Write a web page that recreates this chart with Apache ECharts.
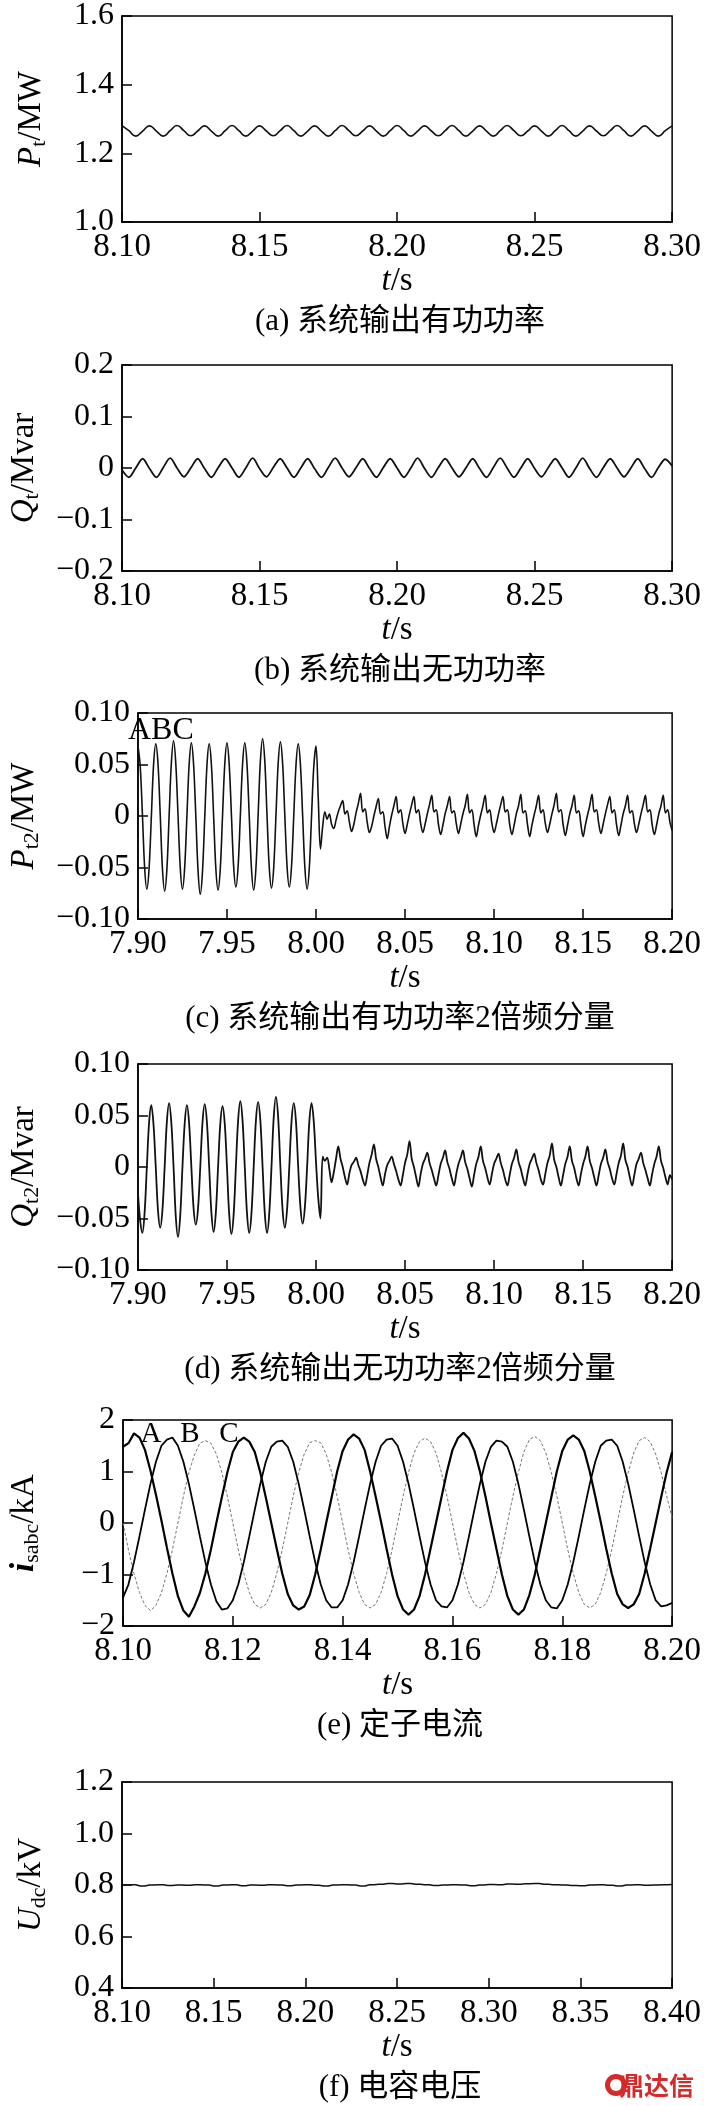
<!DOCTYPE html>
<html><head><meta charset="utf-8">
<script src="https://cdn.jsdelivr.net/npm/echarts@6/dist/echarts.min.js"></script>
<style>html,body{margin:0;padding:0;background:#fff;}#c{width:704px;height:2106px;}</style>
</head><body><div id="c"></div>
<script>
// ---------- tick labels ----------
const xTicksA = ['8.10','8.15','8.20','8.25','8.30'];
const xTicksC = ['7.90','7.95','8.00','8.05','8.10','8.15','8.20'];
const xTicksE = ['8.10','8.12','8.14','8.16','8.18','8.20'];
const xTicksF = ['8.10','8.15','8.20','8.25','8.30','8.35','8.40'];
const yTicksA = ['1.0','1.2','1.4','1.6'];
const yTicksB = ['\u22120.2','\u22120.1','0','0.1','0.2'];
const yTicksC = ['\u22120.10','\u22120.05','0','0.05','0.10'];
const yTicksE = ['\u22122','\u22121','0','1','2'];
const yTicksF = ['0.4','0.6','0.8','1.0','1.2'];
const captions = ['(a) 系统输出有功功率','(b) 系统输出无功功率','(c) 系统输出有功功率2倍频分量','(d) 系统输出无功功率2倍频分量','(e) 定子电流','(f) 电容电压'];

// ---------- series values (sampled on a uniform time grid) ----------
// (a) Pt, 8.10..8.30, step 0.0025 s
const ptVals = [1.281,1.266,1.250,1.265, 1.280,1.265,1.250,1.266, 1.281,1.266,1.251,1.265, 1.280,1.265,1.250,1.266,
 1.281,1.266,1.250,1.265, 1.280,1.265,1.251,1.266, 1.281,1.266,1.250,1.265, 1.280,1.265,1.250,1.266,
 1.281,1.266,1.251,1.265, 1.280,1.265,1.250,1.266, 1.281,1.266,1.250,1.265, 1.280,1.265,1.251,1.266,
 1.281,1.266,1.250,1.265, 1.280,1.265,1.250,1.266, 1.281,1.266,1.251,1.265, 1.280,1.265,1.250,1.266,
 1.281,1.266,1.250,1.265, 1.280,1.265,1.251,1.266, 1.281,1.266,1.250,1.265, 1.280,1.265,1.250,1.266, 1.280];
// (b) Qt, 8.10..8.30, step 0.0025 s
const qtVals = [-0.004,-0.018,0.000,0.018, -0.001,-0.018,0.001,0.019, 0.000,-0.017,0.000,0.018, -0.001,-0.018,0.001,0.018,
 0.000,-0.018,0.000,0.019, -0.001,-0.017,0.001,0.018, 0.000,-0.018,0.000,0.018, -0.001,-0.018,0.001,0.019,
 0.000,-0.017,0.000,0.018, -0.001,-0.018,0.001,0.018, 0.000,-0.018,0.000,0.019, -0.001,-0.018,0.001,0.018,
 0.000,-0.017,0.000,0.018, -0.001,-0.018,0.001,0.019, 0.000,-0.018,0.000,0.018, -0.001,-0.017,0.001,0.018,
 0.000,-0.018,0.000,0.019, -0.001,-0.018,0.001,0.018, 0.000,-0.017,0.000,0.018, -0.001,-0.018,0.001,0.017,
 0.004];
// (c) Pt2, 7.90..8.20, step 0.00125 s
const pt2Vals = [
 .068,.049,.002,-.050,-.071,-.051,-.002,.049,
 .070,.051,.002,-.051,-.073,-.052,.000,.051,
 .073,.051,.001,-.050,-.071,-.050,.000,.050,
 .071,.050,.000,-.053,-.076,-.054,-.002,.049,
 .070,.050,.000,-.051,-.072,-.051,.000,.050,
 .071,.050,.001,-.049,-.069,-.049,.000,.050,
 .071,.050,.000,-.051,-.072,-.051,.001,.053,
 .075,.053,.000,-.050,-.070,-.050,.000,.051,
 .072,.051,.000,-.049,-.069,-.049,.000,.049,
 .070,.050,.000,-.050,-.071,-.050,.000,.048,
 .068,.018,-.032,-.010,.004,-.003,.002,-.008,
 -.012,-.004,.004,.010,.015,.002,.005,-.006,
 -.015,-.008,.003,.012,.022,.004,.007,-.006,
 -.016,-.010,.000,.009,.017,.002,.004,-.010,
 -.022,-.010,.001,.010,.019,.003,.006,-.007,
 -.017,-.008,.002,.011,.019,.003,.006,-.007,
 -.016,-.008,.002,.011,.020,.004,.006,-.008,
 -.018,-.009,.002,.010,.019,.003,.005,-.007,
 -.017,-.008,.002,.010,.021,.003,.006,-.008,
 -.020,-.009,.001,.010,.020,.003,.006,-.007,
 -.016,-.008,.002,.011,.019,.004,.006,-.008,
 -.018,-.009,.002,.010,.021,.003,.005,-.008,
 -.020,-.009,.001,.010,.020,.003,.006,-.007,
 -.016,-.008,.002,.011,.022,.004,.006,-.008,
 -.019,-.009,.002,.010,.020,.003,.005,-.008,
 -.020,-.009,.001,.010,.021,.004,.006,-.007,
 -.017,-.008,.002,.011,.019,.003,.006,-.008,
 -.019,-.009,.002,.010,.020,.003,.005,-.007,
 -.016,-.008,.002,.011,.020,.004,.006,-.008,
 -.018,-.009,.002,.010,.020,.003,.006,-.006,
 -.014];
// (d) Qt2, 7.90..8.20, step 0.00125 s
const qt2Vals = [
 -.025,-.052,-.064,-.044,.000,.043,.060,.041,
 .000,-.042,-.059,-.042,.000,.044,.062,.043,
 .000,-.048,-.068,-.047,.000,.042,.060,.042,
 .000,-.040,-.056,-.040,.000,.043,.061,.043,
 .000,-.044,-.063,-.044,.000,.042,.059,.042,
 .000,-.046,-.065,-.046,.000,.045,.064,.045,
 .000,-.045,-.064,-.045,.000,.045,.063,.045,
 .000,-.045,-.064,-.045,.000,.048,.068,.048,
 .000,-.042,-.059,-.041,.000,.044,.062,.044,
 .000,-.039,-.055,-.039,.000,.044,.062,.044,
 .005,-.030,-.050,.010,.006,.009,-.002,-.015,
 -.005,.008,.020,.008,.000,-.010,-.017,-.006,
 .002,.005,.009,.002,-.004,-.012,-.018,-.008,
 .004,.012,.022,.008,.000,-.010,-.018,-.007,
 .002,.006,.010,.003,-.004,-.012,-.018,-.008,
 .004,.012,.025,.008,.000,-.010,-.019,-.007,
 .003,.008,.014,.004,-.003,-.011,-.018,-.008,
 .003,.009,.016,.005,-.002,-.011,-.018,-.007,
 .003,.009,.016,.005,-.002,-.011,-.019,-.008,
 .003,.010,.020,.006,-.001,-.010,-.017,-.007,
 .003,.008,.013,.004,-.003,-.012,-.018,-.008,
 .003,.009,.017,.005,-.002,-.011,-.018,-.007,
 .003,.008,.013,.004,-.003,-.012,-.017,-.007,
 .004,.011,.023,.007,.000,-.010,-.018,-.008,
 .003,.010,.020,.006,-.001,-.011,-.018,-.007,
 .003,.010,.020,.006,-.001,-.010,-.018,-.008,
 .003,.009,.017,.005,-.002,-.011,-.017,-.007,
 .004,.011,.023,.007,.000,-.010,-.018,-.008,
 .003,.008,.014,.004,-.003,-.011,-.018,-.007,
 .003,.010,.020,.006,-.001,-.010,-.017,-.008,
 -.012];
// (e) stator currents, 8.10..8.20, step 0.001 s
const iaVals = [1.48,1.55,1.74,1.66,1.42,1.02,0.55,0.05,-0.48,-0.98,
 -1.42,-1.70,-1.82,-1.62,-1.36,-0.98,-0.52,0.00,0.50,0.98,
 1.38,1.58,1.66,1.58,1.38,0.98,0.50,0.00,-0.50,-0.98,
 -1.38,-1.60,-1.68,-1.62,-1.40,-1.00,-0.52,0.00,0.50,1.00,
 1.40,1.62,1.72,1.64,1.42,1.00,0.52,0.02,-0.50,-1.00,
 -1.42,-1.68,-1.78,-1.68,-1.42,-1.00,-0.50,0.00,0.50,1.00,
 1.42,1.65,1.75,1.64,1.40,1.00,0.52,0.00,-0.50,-1.00,
 -1.42,-1.68,-1.78,-1.68,-1.40,-1.00,-0.50,0.00,0.50,1.00,
 1.40,1.62,1.70,1.62,1.40,1.00,0.52,0.02,-0.50,-0.98,
 -1.38,-1.58,-1.65,-1.58,-1.38,-0.98,-0.50,0.00,0.50,0.98,
 1.38];
const ibVals = [-1.45,-1.19,-0.76,-0.26,0.26,0.76,1.19,1.50,1.62,1.66,
 1.50,1.19,0.76,0.26,-0.26,-0.76,-1.19,-1.52,-1.68,-1.66,
 -1.50,-1.19,-0.76,-0.26,0.26,0.76,1.19,1.48,1.58,1.60,
 1.48,1.19,0.76,0.26,-0.26,-0.76,-1.19,-1.50,-1.64,-1.64,
 -1.50,-1.19,-0.76,-0.26,0.26,0.76,1.19,1.50,1.62,1.64,
 1.50,1.19,0.76,0.26,-0.26,-0.76,-1.19,-1.50,-1.62,-1.64,
 -1.50,-1.19,-0.76,-0.26,0.26,0.76,1.19,1.48,1.60,1.58,
 1.48,1.19,0.76,0.26,-0.26,-0.76,-1.19,-1.50,-1.64,-1.66,
 -1.50,-1.19,-0.76,-0.26,0.26,0.76,1.19,1.50,1.60,1.62,
 1.50,1.19,0.76,0.26,-0.26,-0.76,-1.19,-1.50,-1.62,-1.60,
 -1.55];
const icVals = [0.00,-0.52,-0.98,-1.35,-1.60,-1.70,-1.60,-1.35,-0.98,-0.52,
 0.00,0.52,0.98,1.32,1.55,1.60,1.55,1.34,0.98,0.52,
 0.00,-0.52,-0.98,-1.35,-1.58,-1.65,-1.58,-1.35,-0.98,-0.52,
 0.00,0.52,0.98,1.34,1.56,1.60,1.56,1.34,0.98,0.52,
 0.00,-0.52,-0.98,-1.35,-1.58,-1.65,-1.58,-1.35,-0.98,-0.52,
 0.00,0.52,0.98,1.36,1.58,1.65,1.58,1.36,0.98,0.52,
 0.00,-0.52,-0.98,-1.35,-1.58,-1.65,-1.58,-1.35,-0.98,-0.52,
 0.00,0.52,0.98,1.38,1.62,1.68,1.60,1.36,0.98,0.52,
 0.00,-0.52,-0.98,-1.35,-1.58,-1.65,-1.58,-1.35,-0.98,-0.52,
 0.00,0.52,0.98,1.36,1.60,1.66,1.58,1.34,0.98,0.52,
 0.10];
// (f) Udc, 8.10..8.40, step 0.005 s
const udcVals = [0.800,0.801,0.796,0.800,0.801,0.798,0.800,0.799,0.801,0.800,
 0.796,0.800,0.801,0.797,0.800,0.799,0.801,0.800,0.797,0.800,
 0.801,0.799,0.796,0.800,0.801,0.800,0.796,0.801,0.803,0.806,
 0.804,0.806,0.803,0.801,0.798,0.800,0.801,0.800,0.797,0.800,
 0.802,0.801,0.804,0.803,0.805,0.806,0.803,0.801,0.800,0.798,
 0.797,0.800,0.801,0.799,0.796,0.800,0.801,0.799,0.800,0.801,
 0.802];

// ---------- build ----------
const FS = "'Liberation Serif','Times New Roman',serif";
const CJK = "'Liberation Serif','Noto Sans CJK SC',serif";
function pairs(t0, dt, vals){ return vals.map((v,i)=>[+(t0+i*dt).toFixed(6), v]); }

const NF = 33, SF = 22;
const rich = {
  i:{fontStyle:'italic',fontSize:NF,fontFamily:FS,color:'#000',lineHeight:NF,padding:[0,0,4,0]},
  bi:{fontStyle:'italic',fontWeight:'bold',fontSize:NF,fontFamily:FS,color:'#000',lineHeight:NF,padding:[0,0,4,0]},
  n:{fontSize:NF,fontFamily:FS,color:'#000',lineHeight:NF,padding:[0,0,4,0]},
  s:{fontSize:SF,fontFamily:FS,color:'#000',lineHeight:SF,verticalAlign:'bottom'}
};

const TOPS = [16,365,713,1064,1420,1782];
const panels = [
 {xr:[8.10,8.30,0.05], xl:xTicksA, yr:[1.0,1.6,0.2], yl:yTicksA, name:'{i|P}{s|t}{n|/MW}', gap:72},
 {xr:[8.10,8.30,0.05], xl:xTicksA, yr:[-0.2,0.2,0.1], yl:yTicksB, name:'{i|Q}{s|t}{n|/Mvar}', gap:72},
 {xr:[7.90,8.20,0.05], xl:xTicksC, yr:[-0.10,0.10,0.05], yl:yTicksC, name:'{i|P}{s|t2}{n|/MW}', gap:83},
 {xr:[7.90,8.20,0.05], xl:xTicksC, yr:[-0.10,0.10,0.05], yl:yTicksC, name:'{i|Q}{s|t2}{n|/Mvar}', gap:81},
 {xr:[8.10,8.20,0.02], xl:xTicksE, yr:[-2,2,1], yl:yTicksE, name:'{bi|i}{s|sabc}{n|/kA}', gap:80},
 {xr:[8.10,8.40,0.05], xl:xTicksF, yr:[0.4,1.2,0.2], yl:yTicksF, name:'{i|U}{s|dc}{n|/kV}', gap:72}
];

const grid=[], xAxis=[], yAxis=[], graphic=[];
panels.forEach((p,k)=>{
  grid.push({left:122,width:555,top:TOPS[k],height:206,show:true,borderColor:'#000',borderWidth:1.5});
  const axBase = {
    axisLine:{show:true,onZero:false,lineStyle:{color:'#000',width:1.5}},
    axisTick:{show:true,inside:true,length:10,lineStyle:{color:'#000',width:1.5}},
    splitLine:{show:false}
  };
  xAxis.push(Object.assign({gridIndex:k,type:'value',min:p.xr[0],max:p.xr[1],interval:p.xr[2],
    axisLabel:{margin:9,fontSize:33,fontFamily:FS,color:'#000',showMinLabel:true,showMaxLabel:true,
      formatter:(v)=>p.xl[Math.round((v-p.xr[0])/p.xr[2])]||''},
    name:'{i|t}{n|/s}',nameLocation:'middle',nameGap:45,nameTextStyle:{rich:rich}},axBase));
  yAxis.push(Object.assign({gridIndex:k,type:'value',min:p.yr[0],max:p.yr[1],interval:p.yr[2],
    axisLabel:{margin:8,fontSize:32,fontFamily:FS,color:'#000',showMinLabel:true,showMaxLabel:true,
      formatter:(v)=>p.yl[Math.round((v-p.yr[0])/p.yr[2])]||''},
    name:p.name,nameLocation:'middle',nameGap:p.gap,nameRotate:90,nameTextStyle:{rich:rich}},axBase));
  graphic.push({type:'text',x:400,y:TOPS[k]+306,style:{text:captions[k],fontSize:31,fontFamily:CJK,fill:'#000',
    textAlign:'center',textVerticalAlign:'middle',verticalAlign:'middle'}});
});
// annotations
graphic.push({type:'text',x:128,y:731,style:{text:'ABC',fontSize:32,fontFamily:FS,fill:'#000',textAlign:'left',textVerticalAlign:'middle',verticalAlign:'middle'}});
[['A',151],['B',190],['C',229]].forEach(([s,x])=>graphic.push({type:'text',x:x,y:1434,style:{text:s,fontSize:29,fontFamily:FS,fill:'#000',textAlign:'center',textVerticalAlign:'middle',verticalAlign:'middle'}}));
graphic.push({type:'circle',shape:{cx:616,cy:2085,r:11},style:{fill:'#d42a2a'}});
graphic.push({type:'circle',shape:{cx:616,cy:2085,r:6},style:{fill:'#fff'}});
graphic.push({type:'text',x:694,y:2085,style:{text:'鼎达信',fontSize:25,fontWeight:'bold',fontFamily:"'Noto Sans CJK SC',sans-serif",fill:'#d42a2a',textAlign:'right',textVerticalAlign:'middle',verticalAlign:'middle'}});

function line(k,data,opt){
  return Object.assign({type:'line',xAxisIndex:k,yAxisIndex:k,data:data,showSymbol:false,symbol:'none',
    lineStyle:{color:'#111',width:1.6},clip:true,silent:true},opt||{});
}
const series = [
  line(0,pairs(8.10,0.0025,ptVals),{smooth:0.5}),
  line(1,pairs(8.10,0.0025,qtVals),{smooth:0.3,lineStyle:{color:'#111',width:1.8}}),
  line(2,pairs(7.90,0.00125,pt2Vals),{smooth:0.35}),
  line(3,pairs(7.90,0.00125,qt2Vals),{smooth:0.35,lineStyle:{color:'#111',width:1.8}}),
  line(4,pairs(8.10,0.001,icVals),{lineStyle:{color:'#777',width:1,type:[3,2]}}),
  line(4,pairs(8.10,0.001,ibVals),{lineStyle:{color:'#000',width:1.8}}),
  line(4,pairs(8.10,0.001,iaVals),{lineStyle:{color:'#000',width:2.2}}),
  line(5,pairs(8.10,0.005,udcVals),{step:'middle',lineStyle:{color:'#111',width:1.6}})
];

const chart = echarts.init(document.getElementById('c'),null,{renderer:'canvas'});
chart.setOption({backgroundColor:'#fff',animation:false,grid,xAxis,yAxis,series,graphic});
</script></body></html>
